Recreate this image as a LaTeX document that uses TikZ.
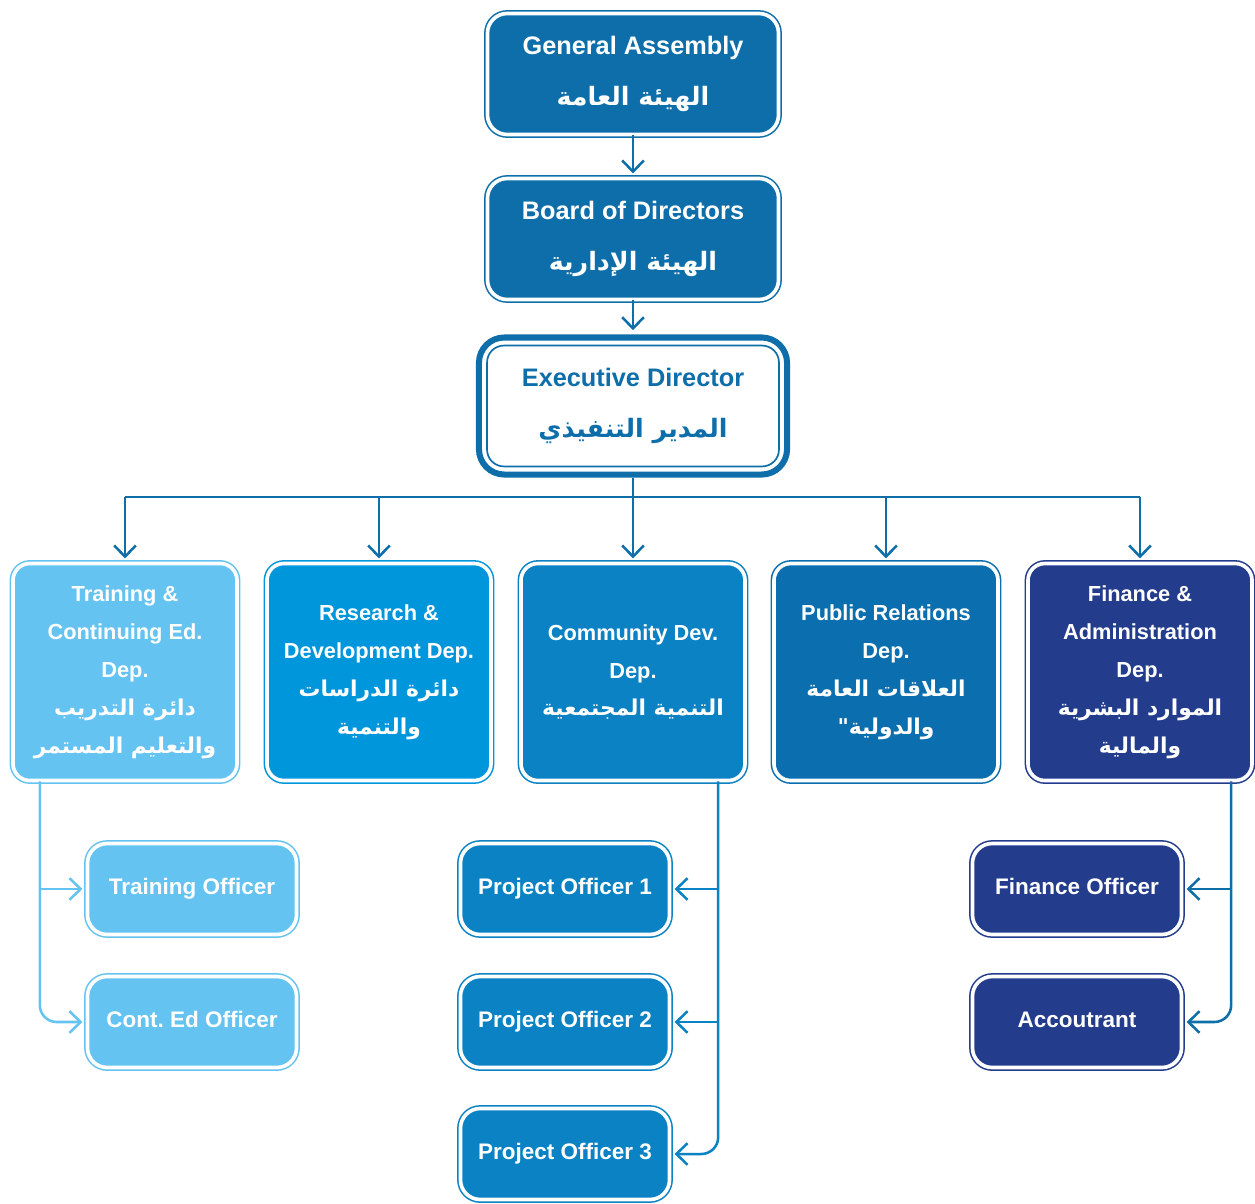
\documentclass[tikz,border=0pt]{standalone}
\usepackage{fontspec}
\setmainfont{Liberation Sans}
\newfontfamily\arabicfont[Script=Arabic]{DejaVu Sans}
\TeXXeTstate=1
\frenchspacing
\usetikzlibrary{positioning,arrows.meta}
\definecolor{orgblue}{HTML}{0E6EAA}
\definecolor{trainblue}{HTML}{64C3F0}
\definecolor{resblue}{HTML}{0096DC}
\definecolor{commblue}{HTML}{0A82C3}
\definecolor{prblue}{HTML}{0B6EAF}
\definecolor{finblue}{HTML}{233C8C}
\newcommand{\artxt}[1]{{\arabicfont\beginR #1\endR}}
\tikzset{
    orgbox/.style={draw=#1, fill=#1, line width=1.1pt, double=white, double distance=2.6pt, rounded corners=14pt, align=center, text=white, inner sep=0pt},
    topbox/.style={orgbox=orgblue, minimum width=7.275cm, minimum height=3.025cm, font=\bfseries\fontsize{18}{36}\selectfont},
    edbox/.style={draw=orgblue, line width=4.3pt, fill=white, rounded corners=18pt, align=center, text=orgblue, inner sep=0pt,
        minimum width=7.7cm, minimum height=3.425cm, font=\bfseries\fontsize{18}{36}\selectfont, path picture={
        \draw[orgblue, line width=1.2pt, rounded corners=12pt] ([shift={(5.75pt,5.75pt)}]path picture bounding box.south west) rectangle ([shift={(-5.75pt,-5.75pt)}]path picture bounding box.north east);
    }},
    deptbox/.style={orgbox=#1, minimum width=5.6cm, minimum height=5.425cm, rounded corners=12pt, font=\bfseries\fontsize{15.5}{27}\selectfont},
    officerbox/.style={orgbox=#1, minimum width=5.225cm, minimum height=2.275cm, text height=11pt, text depth=3.5pt, font=\bfseries\fontsize{16}{20}\selectfont},
    orgarrow/.style={draw=#1, line width=1.8pt, -{Straight Barb[length=2.8mm, width=5.4mm]}, shorten >=3pt},
    orgline/.style={draw=#1, line width=1.8pt}
}

\begin{document}
\begin{tikzpicture}[x=0.025cm, y=-0.025cm]
    \useasboundingbox (0,0) rectangle (1255,1203);
    % top of the chart
    \node[topbox] (assembly) at (633,74) {General Assembly\\\artxt{الهيئة العامة}};
    \node[topbox] (board) at (633,239) {Board of Directors\\\artxt{الهيئة الإدارية}};
    \node[edbox] (director) at (633,406) {Executive Director\\\artxt{المدير التنفيذي}};

    % departments
    \node[deptbox=trainblue] (training) at (125,672) {Training \&\\Continuing Ed.\\Dep.\\\artxt{دائرة التدريب}\\\artxt{والتعليم المستمر}};
    \node[deptbox=resblue] (research) at (379,672) {Research \&\\Development Dep.\\\artxt{دائرة الدراسات}\\\artxt{والتنمية}};
    \node[deptbox=commblue] (community) at (633,672) {Community Dev.\\Dep.\\\artxt{التنمية المجتمعية}};
    \node[deptbox=prblue] (relations) at (886,672) {Public Relations\\Dep.\\\artxt{العلاقات العامة}\\\artxt{والدولية"}};
    \node[deptbox=finblue] (finance) at (1140,672) {Finance \&\\Administration\\Dep.\\\artxt{الموارد البشرية}\\\artxt{والمالية}};

    % officers
    \node[officerbox=trainblue] (trainoff) at (192,889) {Training Officer};
    \node[officerbox=trainblue] (contoff) at (192,1022) {Cont. Ed Officer};
    \node[officerbox=commblue] (proj1) at (565,889) {Project Officer 1};
    \node[officerbox=commblue] (proj2) at (565,1022) {Project Officer 2};
    \node[officerbox=commblue] (proj3) at (565,1154) {Project Officer 3};
    \node[officerbox=finblue] (finoff) at (1077,889) {Finance Officer};
    \node[officerbox=finblue] (accoff) at (1077,1022) {Accoutrant};

    % connectors
    \draw[orgarrow=orgblue] (assembly) -- (board);
    \draw[orgarrow=orgblue] (board) -- (director);
    \coordinate (bus) at (633,497);
    \draw[orgline=orgblue] (bus -| training.north) -- (bus -| finance.north);
    \draw[orgarrow=orgblue] (director) -- (community);
    \foreach \dept in {training,research,relations,finance}
        \draw[orgarrow=orgblue] (bus -| \dept.north) -- (\dept.north);

    \coordinate (trainspine) at ([xshift=0.69cm]training.south west);
    \draw[orgarrow=trainblue] (trainspine |- trainoff.west) -- (trainoff.west);
    \draw[orgarrow=trainblue, rounded corners=12pt] (trainspine) |- (contoff.west);

    \coordinate (commspine) at ([xshift=-0.69cm]community.south east);
    \draw[orgarrow=commblue] (commspine |- proj1.east) -- (proj1.east);
    \draw[orgarrow=commblue] (commspine |- proj2.east) -- (proj2.east);
    \draw[orgarrow=commblue, rounded corners=12pt] (commspine) |- (proj3.east);

    \coordinate (finspine) at ([xshift=-0.54cm]finance.south east);
    \draw[orgarrow=orgblue] (finspine |- finoff.east) -- (finoff.east);
    \draw[orgarrow=orgblue, rounded corners=12pt] (finspine) |- (accoff.east);
\end{tikzpicture}
\end{document}
